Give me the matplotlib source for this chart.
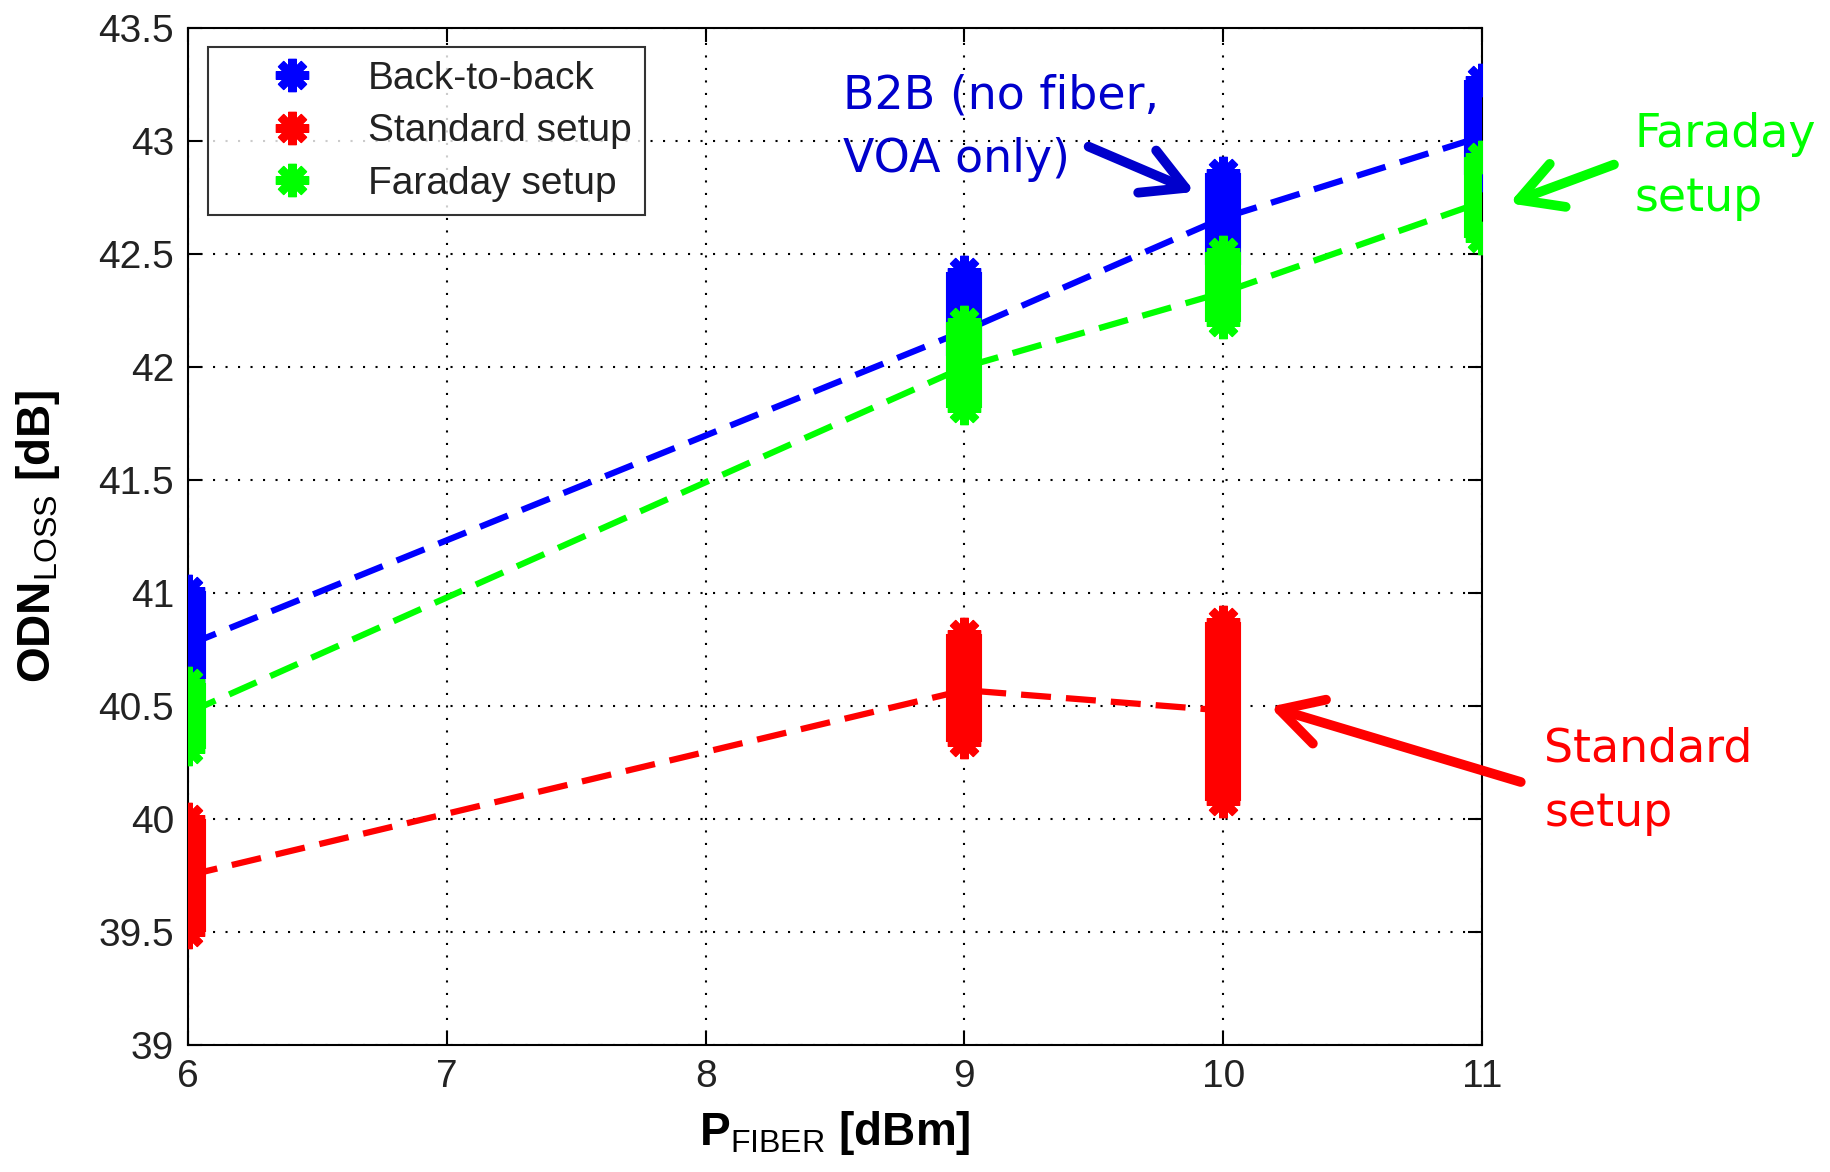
import matplotlib
matplotlib.use("Agg")
import matplotlib.pyplot as plt

# measured ODN loss per fibre launch power (range of readings + mean)
b2b_x = [6, 9, 10, 11]
b2b_lo = [40.62, 42.05, 42.45, 42.85]
b2b_hi = [41.01, 42.42, 42.86, 43.27]
b2b_mean = [40.77, 42.16, 42.66, 43.02]

std_x = [6, 9, 10]
std_lo = [39.50, 40.34, 40.08]
std_hi = [40.00, 40.82, 40.87]
std_mean = [39.75, 40.57, 40.48]

far_x = [6, 9, 10, 11]
far_lo = [40.31, 41.82, 42.20, 42.57]
far_hi = [40.60, 42.20, 42.51, 42.93]
far_mean = [40.47, 42.00, 42.33, 42.73]

xticks = [6, 7, 8, 9, 10, 11]
yticks = [39, 39.5, 40, 40.5, 41, 41.5, 42, 42.5, 43, 43.5]

BLUE, RED, GREEN = "#0000ff", "#ff0000", "#00ff00"
ASTER = (8, 2, 0)

plt.rcParams["font.family"] = ["Liberation Sans", "DejaVu Sans"]
plt.rcParams["mathtext.fontset"] = "custom"
plt.rcParams["mathtext.rm"] = "Liberation Sans"
plt.rcParams["mathtext.bf"] = "Liberation Sans:bold"

fig = plt.figure(figsize=(18.31, 11.72), dpi=100)
ax = fig.add_axes([0.1027, 0.1084, 0.7067, 0.8677])

series = [
    ("Back-to-back", b2b_x, b2b_lo, b2b_hi, b2b_mean, BLUE),
    ("Standard setup", std_x, std_lo, std_hi, std_mean, RED),
    ("Faraday setup", far_x, far_lo, far_hi, far_mean, GREEN),
]

# dashed mean lines
for name, xs, lo, hi, mean, c in series:
    ax.plot(xs, mean, color=c, lw=4.5, dashes=(4.8, 2.4), zorder=3)

# stacked asterisk readings -> thick bars with jagged ends
for name, xs, lo, hi, mean, c in series:
    ax.vlines(xs, lo, hi, colors=c, lw=26, zorder=4)
    ax.plot(xs, lo, ls="none", marker=ASTER, ms=24, mew=6, color=c, zorder=4)
    ax.plot(xs, hi, ls="none", marker=ASTER, ms=24, mew=6, color=c, zorder=4,
            label=name)

ax.set_xlim(6, 11)
ax.set_ylim(39, 43.5)
ax.set_xticks(xticks)
ax.set_yticks(yticks)
ax.set_xticklabels([str(t) for t in xticks])
ax.set_yticklabels([f"{t:g}" for t in yticks])
ax.grid(True, color="black", ls=(0, (1, 5)), lw=1.5)
ax.tick_params(direction="in", length=10, width=1.5, labelsize=28,
               top=True, right=True, pad=10, labelcolor="#222222")
for s in ax.spines.values():
    s.set_linewidth(1.5)

ax.set_xlabel(r"P$_{\mathrm{FIBER}}$ [dBm]", fontsize=33, fontweight="bold",
              labelpad=10)
ax.set_ylabel(r"ODN$_{\mathrm{LOSS}}$ [dB]", fontsize=33, fontweight="bold",
              labelpad=26)

leg = ax.legend(loc="upper left", bbox_to_anchor=(0.0155, 0.981), borderaxespad=0,
                fontsize=28, frameon=True, fancybox=False, edgecolor="black",
                handlelength=3.6, handletextpad=0.15, borderpad=0.35,
                labelspacing=0.42, markerscale=1.0)
leg.get_frame().set_linewidth(1.5)
for t in leg.get_texts():
    t.set_color("#222222")

# callouts
def callout(txt, tx, ty, tip, tail, c):
    ax.annotate("", xy=tip, xytext=tail, annotation_clip=False,
                arrowprops=dict(arrowstyle="->,head_length=1.0,head_width=0.55",
                                mutation_scale=30, color=c, lw=7))
    ax.text(tx, ty, txt, color=c, fontsize=33, family="DejaVu Sans",
            linespacing=1.55, va="top", ha="left", clip_on=False)

callout("B2B (no fiber,\nVOA only)", 8.53, 43.30, (9.90, 42.77), (9.47, 42.98), "#0000cc")
callout("Faraday\nsetup", 11.59, 43.13, (11.095, 42.72), (11.52, 42.90), GREEN)
callout("Standard\nsetup", 11.24, 40.41, (10.17, 40.50), (11.16, 40.16), RED)

fig.savefig("out.png", dpi=100)
